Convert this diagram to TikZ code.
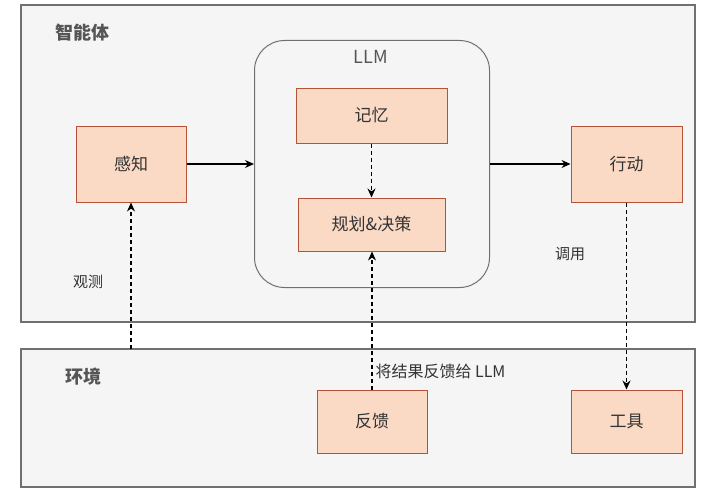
\documentclass[tikz,border=0pt]{standalone}
\usepackage{fontspec}
\setmainfont{Noto Sans CJK SC}
\usetikzlibrary{arrows.meta}
\definecolor{grpfill}{HTML}{F5F5F5}
\definecolor{grpline}{HTML}{707070}
\definecolor{boxfill}{HTML}{FAD9C5}
\definecolor{boxline}{HTML}{B5533A}
\definecolor{txt}{HTML}{333333}
\definecolor{grptxt}{HTML}{555555}
\tikzset{
  grp/.style={draw=grpline, fill=grpfill, line width=1.2pt},
  llmbox/.style={draw=grpline, fill=grpfill, line width=1pt, rounded corners=30pt},
  item/.style={draw=boxline, fill=boxfill, line width=1pt, text=txt, font=\fontsize{17}{20}\selectfont},
  grplabel/.style={text=grptxt, font=\fontsize{18}{21}\selectfont\bfseries},
  lbl/.style={text=txt, font=\fontsize{15}{18}\selectfont},
  solidarrow/.style={draw=black, line width=1.2pt, -{Stealth[length=9pt,width=8pt]}},
  dasharrow/.style={draw=black, line width=1.2pt, dashed, dash pattern=on 4pt off 3pt, -{Stealth[length=9pt,width=8pt]}}
}
\begin{document}
\begin{tikzpicture}[x=1pt,y=-1pt]
\useasboundingbox (0,0) rectangle (720,495);
\fill[white] (0,0) rectangle (720,495);
% groups
\draw[grp] (21,5) rectangle (695,322);
\draw[grp] (21,349) rectangle (695,487);
\node[grplabel, anchor=west] (agentlbl) at (52,33) {智能体};
\node[grplabel, anchor=west] (envlbl) at (62,377) {环境};
% LLM container
\node[llmbox, minimum width=235pt, minimum height=247pt, anchor=north west] (llm) at (254,40) {};
\node[text=grptxt, font=\fontsize{18}{21}\selectfont] (llmlbl) at (371,57) {LLM};
% items
\node[item, minimum width=110pt, minimum height=76pt] (perc) at (131,164) {感知};
\node[item, minimum width=151pt, minimum height=55pt] (mem) at (371.5,115.5) {记忆};
\node[item, minimum width=147pt, minimum height=53pt] (plan) at (371.5,224.5) {规划\&决策};
\node[item, minimum width=111pt, minimum height=76pt] (act) at (626.5,164) {行动};
\node[item, minimum width=110pt, minimum height=63pt] (fb) at (372,421.5) {反馈};
\node[item, minimum width=111pt, minimum height=63pt] (tool) at (626.5,421.5) {工具};
% labels
\node[lbl] (obs) at (88,282) {观测};
\node[lbl] (call) at (570,254) {调用};
\node[lbl, anchor=west, font=\fontsize{16}{19}\selectfont] (fblbl) at (372,371) {将结果反馈给 LLM};
\coordinate (envtop) at (131,349);
% connectors
\draw[solidarrow] (perc.east) -- (llm.west |- perc.east);
\draw[solidarrow] (llm.east |- act.west) -- (act.west);
\draw[dasharrow] (mem.south) -- (plan.north);
\draw[dasharrow] (fb.north) -- (fb.north |- plan.south);
\draw[dasharrow] (act.south) -- (tool.north);
\draw[dasharrow] (envtop) -- (perc.south);
\end{tikzpicture}
\end{document}
